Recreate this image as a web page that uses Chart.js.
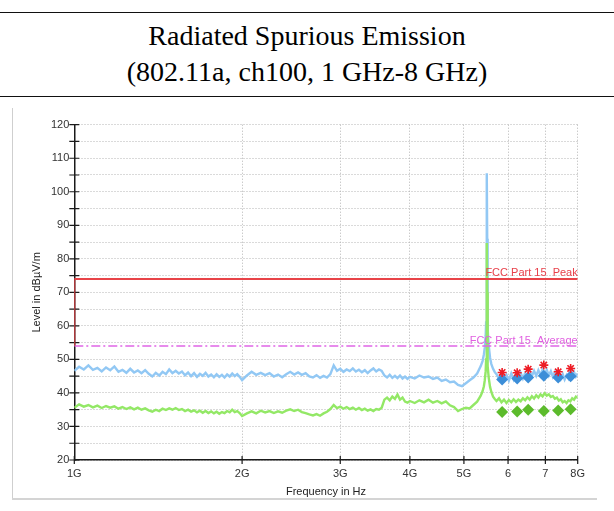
<!DOCTYPE html>
<html>
<head>
<meta charset="utf-8">
<script src="https://cdn.jsdelivr.net/npm/chart.js@4"></script>
<style>
  html, body { margin: 0; padding: 0; background: #fff; }
  body { width: 614px; height: 511px; position: relative; overflow: hidden; }
  .rule { position: absolute; left: 0; width: 614px; height: 0; border-top: 1.4px solid #111; }
  #heading { position: absolute; left: 0; top: 18px; width: 614px; text-align: center;
             font-family: "Liberation Serif", "Times New Roman", serif; font-size: 28px;
             line-height: 36px; color: #000; }
  #frameL { position: absolute; left: 12px; top: 108px; width: 0; height: 391px; border-left: 1.5px solid #cfcfcf; }
  #frameB { position: absolute; left: 12px; top: 498px; width: 585px; height: 0; border-top: 2px solid #d4d4d4; }
  #wrap { position: absolute; left: 0; top: 100px; width: 614px; height: 411px; }
</style>
</head>
<body>
<div class="rule" style="top:12px"></div>
<div id="heading">Radiated Spurious Emission<br>(802.11a, ch100, 1 GHz-8 GHz)</div>
<div class="rule" style="top:96px"></div>
<div id="frameL"></div>
<div id="frameB"></div>
<div id="wrap"><canvas id="c" width="614" height="411"></canvas></div>
<script>
// Sweep frequencies (GHz) shared by both traces
const freqGHz = [
  1.00,1.02,1.04,1.06,1.08,1.10,1.12,1.14,1.16,1.18,
  1.20,1.22,1.24,1.26,1.28,1.30,1.32,1.34,1.36,1.38,
  1.40,1.42,1.44,1.46,1.48,1.50,1.52,1.54,1.56,1.58,
  1.60,1.62,1.64,1.66,1.68,1.70,1.72,1.74,1.76,1.78,
  1.80,1.82,1.84,1.86,1.88,1.90,1.92,1.94,1.96,1.98,
  2.00,2.04,2.08,2.12,2.16,2.20,2.24,2.28,2.32,2.36,
  2.40,2.44,2.48,2.52,2.56,2.60,2.64,2.68,2.72,2.76,
  2.80,2.84,2.88,2.92,2.96,3.00,3.04,3.08,3.12,3.16,
  3.20,3.24,3.28,3.32,3.36,3.40,3.44,3.48,3.52,3.56,
  3.60,3.64,3.68,3.72,3.76,3.80,3.84,3.88,3.92,3.96,
  4.00,4.08,4.16,4.24,4.32,4.40,4.48,4.56,4.64,4.72,
  4.80,4.88,4.96,5.04,5.12,5.20,5.28,5.36,
  5.40,5.43,5.45,5.47,5.48,5.49,5.495,5.50,5.505,5.51,5.52,5.54,5.57,5.60,5.64,5.68,
  5.72,5.78,5.84,5.90,5.96,6.02,6.08,6.14,6.20,6.26,
  6.32,6.38,6.44,6.50,6.56,6.62,6.68,6.74,6.80,6.86,
  6.92,6.98,7.04,7.10,7.16,7.22,7.28,7.34,7.40,7.46,
  7.52,7.58,7.64,7.70,7.76,7.82,7.88,7.94,8.00
];

// Peak detector trace (dBµV/m)
const peakTrace = [
  46.6,47.8,47.0,48.2,46.9,47.5,46.4,47.6,46.8,47.9,
  46.3,46.9,46.0,47.2,46.1,46.7,45.9,46.8,45.7,44.9,
  46.0,45.2,46.3,45.6,47.0,45.9,46.6,45.8,46.4,45.3,
  46.1,45.0,45.9,44.8,45.7,45.1,46.0,44.9,45.5,44.7,
  45.6,44.8,45.4,44.6,45.5,44.9,45.8,45.0,45.6,44.8,
  43.8,45.2,46.3,45.4,46.0,45.3,45.9,44.9,45.5,44.7,
  45.6,46.3,45.5,46.1,45.4,45.9,44.9,44.6,45.3,44.5,
  45.1,44.6,45.6,48.2,46.6,47.2,46.3,47.0,46.5,47.3,
  46.4,46.9,46.2,46.8,45.9,46.7,47.3,46.4,47.0,46.6,
  45.2,44.6,45.4,44.5,45.1,44.4,45.2,44.3,44.9,44.2,
  44.8,44.3,45.2,44.6,44.9,44.2,44.6,43.6,44.0,43.2,
  43.4,42.4,42.0,42.9,43.8,44.6,45.8,48.0,
  49.5,51.5,53.5,57.0,61.0,70.0,88.0,105.5,86.0,68.0,59.0,54.0,50.5,48.6,47.2,46.2,
  45.6,44.2,45.9,43.9,45.4,43.7,45.8,44.0,45.6,44.1,
  46.0,44.3,45.9,44.6,46.5,45.0,46.6,45.1,46.8,45.3,
  47.0,45.4,46.9,45.2,46.5,44.8,46.1,44.5,45.8,44.2,
  45.6,44.0,45.3,44.3,45.9,44.6,46.2,44.9,45.8
];

// Average detector trace (dBµV/m)
const avgTrace = [
  35.6,36.6,35.9,36.4,35.7,36.2,35.5,36.1,35.6,36.0,
  35.3,35.8,35.2,35.7,35.1,35.6,35.0,35.4,34.8,34.4,
  35.0,34.6,35.3,34.9,35.4,35.0,35.5,34.9,35.2,34.6,
  35.0,34.4,34.8,34.2,34.7,34.1,34.6,34.0,34.5,33.9,
  34.4,33.8,34.3,34.0,34.6,34.2,35.0,34.3,34.6,34.0,
  33.1,33.9,34.5,33.9,34.7,34.2,34.6,34.0,34.5,34.1,
  34.7,35.1,34.6,35.0,34.3,34.0,33.6,33.3,33.7,33.2,
  33.9,34.4,35.2,36.4,35.5,35.9,35.3,35.8,35.2,35.6,
  35.0,35.5,34.9,35.3,34.7,35.1,34.6,35.2,35.0,35.6,
  38.0,38.6,37.8,38.9,38.2,39.5,38.0,38.6,37.4,37.1,
  37.6,37.0,37.8,37.2,38.0,37.1,37.6,36.9,37.5,36.3,
  35.8,34.6,35.2,35.6,35.4,36.4,37.4,39.2,
  40.5,42.0,43.8,46.5,50.0,58.0,72.0,84.7,70.0,56.0,48.0,44.5,41.8,40.3,38.9,38.2,
  37.6,38.4,37.2,38.0,37.0,37.9,37.2,38.1,37.3,38.0,
  37.5,38.4,37.8,38.7,38.0,39.0,38.3,39.3,38.6,39.6,
  39.0,39.9,39.2,39.6,38.8,39.1,38.3,38.6,37.7,38.1,
  37.2,37.6,37.0,37.8,37.5,38.4,38.0,38.9,38.6
];

// Final measurement points
const markerFreqGHz = [5.855, 6.23, 6.52, 6.955, 7.38, 7.77];
const previewPeak   = [46.1, 46.0, 47.1, 48.3, 46.3, 47.3];
const finalPeak     = [44.0, 44.3, 44.6, 45.1, 44.6, 45.0];
const finalAverage  = [34.3, 34.5, 35.0, 34.6, 34.8, 35.1];

// Limits
const peakLimit = 74;
const avgLimit = 54;
const peakLimitLabel = 'FCC Part 15  Peak';
const avgLimitLabel = 'FCC Part 15  Average';

// Axes
const xTickValues = [1, 2, 3, 4, 5, 6, 7, 8];
const xTickLabels = ['1G', '2G', '3G', '4G', '5G', '6', '7', '8G'];
const yMin = 20, yMax = 120, yStep = 5;

const pts = (xs, ys) => xs.map((f, i) => ({ x: f, y: ys[i] }));
const sans = '"Liberation Sans", Arial, Helvetica, sans-serif';

const crossTicks = {
  id: 'crossTicks',
  beforeDatasetsDraw(chart) {
    const { ctx, scales: { x, y } } = chart;
    ctx.save();
    ctx.strokeStyle = '#1a1a1a';
    ctx.lineWidth = 1.2;
    ctx.beginPath();
    for (const t of y.ticks) {
      const py = y.getPixelForValue(t.value);
      ctx.moveTo(x.left - 5, py);
      ctx.lineTo(x.left + 5, py);
    }
    for (const t of x.ticks) {
      const px = x.getPixelForValue(t.value);
      ctx.moveTo(px, y.bottom - 4);
      ctx.lineTo(px, y.bottom + 4);
    }
    ctx.stroke();
    ctx.restore();
  }
};

const limitLabels = {
  id: 'limitLabels',
  afterDatasetsDraw(chart) {
    const { ctx, chartArea, scales: { y } } = chart;
    ctx.save();
    ctx.font = '11px ' + sans;
    ctx.textAlign = 'right';
    ctx.textBaseline = 'alphabetic';
    ctx.fillStyle = '#e8404a';
    ctx.fillText(peakLimitLabel, chartArea.right, y.getPixelForValue(peakLimit) - 3);
    ctx.fillStyle = '#e05ee0';
    ctx.fillText(avgLimitLabel, chartArea.right, y.getPixelForValue(avgLimit) - 2);
    ctx.restore();
  }
};

new Chart(document.getElementById('c'), {
  type: 'line',
  data: {
    datasets: [
      { type: 'scatter', data: pts(markerFreqGHz, previewPeak), pointStyle: 'star', pointRadius: 4.5,
        borderColor: '#ee1c25', backgroundColor: '#ee1c25', pointBorderWidth: 1.6, showLine: false },
      { type: 'scatter', data: pts(markerFreqGHz, finalPeak), pointStyle: 'rectRot', pointRadius: 6,
        borderColor: '#3c8ed8', backgroundColor: '#3c8ed8', pointBorderWidth: 0, showLine: false },
      { type: 'scatter', data: pts(markerFreqGHz, finalAverage), pointStyle: 'rectRot', pointRadius: 6,
        borderColor: '#5cbb2c', backgroundColor: '#5cbb2c', pointBorderWidth: 0, showLine: false },
      { data: [{ x: 1, y: avgLimit }, { x: 1, y: peakLimit }, { x: 8, y: peakLimit }],
        borderColor: '#e84348', borderWidth: 2, pointRadius: 0, tension: 0 },
      { data: [{ x: 1, y: avgLimit }, { x: 8, y: avgLimit }],
        borderColor: '#e066e6', borderWidth: 1.5, borderDash: [9, 3, 2, 3], pointRadius: 0, tension: 0 },
      { data: pts(freqGHz, avgTrace), borderColor: '#93e866', borderWidth: 2.4, pointRadius: 0, tension: 0 },
      { data: pts(freqGHz, peakTrace), borderColor: '#92c8f4', borderWidth: 2.4, pointRadius: 0, tension: 0 }
    ]
  },
  options: {
    responsive: false,
    animation: false,
    devicePixelRatio: 1,
    layout: { padding: { left: 0, right: 36.3, top: 24.7, bottom: 0 } },
    plugins: { legend: { display: false }, tooltip: { enabled: false } },
    scales: {
      x: {
        type: 'logarithmic',
        min: 1, max: 8,
        afterBuildTicks(scale) { scale.ticks = xTickValues.map(v => ({ value: v })); },
        afterFit(scale) { scale.height = 51; },
        grid: { color: '#b4b4b4', lineWidth: 1, drawTicks: false },
        border: { display: true, color: '#1a1a1a', width: 1.5, dash: [1, 2] },
        ticks: {
          autoSkip: false, maxRotation: 0, minRotation: 0, padding: 7.4,
          color: '#333', font: { family: sans, size: 11 },
          callback: (v, i) => xTickLabels[i]
        },
        title: { display: true, text: 'Frequency in Hz', color: '#222',
                 font: { family: sans, size: 11 }, padding: { top: 0, bottom: 12.4 } }
      },
      y: {
        min: yMin, max: yMax,
        afterFit(scale) { scale.width = 74.3; },
        grid: { color: '#b4b4b4', lineWidth: 1, drawTicks: false },
        border: { display: true, color: '#1a1a1a', width: 1.5, dash: [1, 2] },
        ticks: {
          stepSize: yStep, autoSkip: false, padding: 5,
          color: '#333', font: { family: sans, size: 11 },
          callback: v => (v % 10 === 0 ? String(v) : '')
        },
        title: { display: true, text: 'Level in dBµV/m', color: '#222',
                 font: { family: sans, size: 11 }, padding: { top: 30, bottom: 0 } }
      }
    }
  },
  plugins: [crossTicks, limitLabels]
});
</script>
</body>
</html>
